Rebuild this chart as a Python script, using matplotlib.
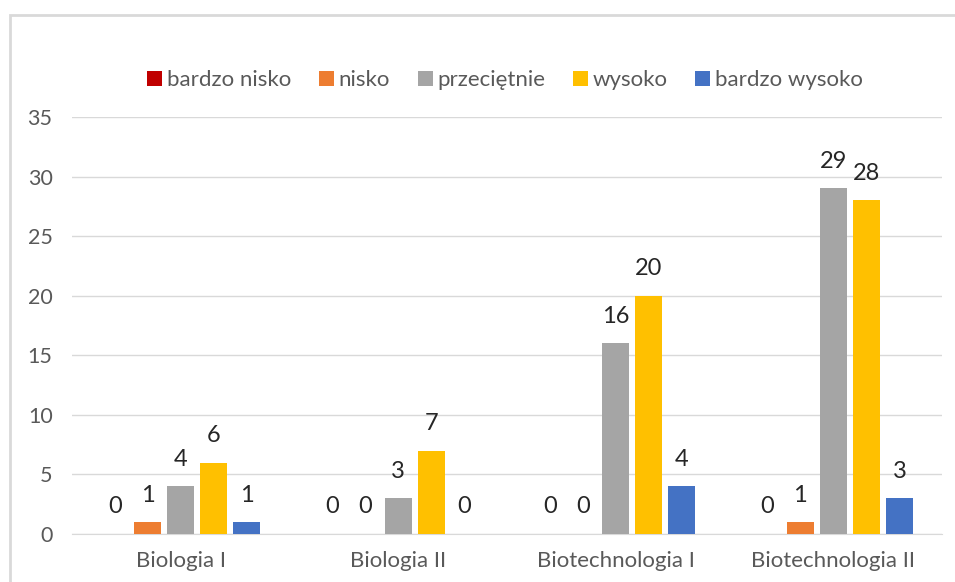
import matplotlib
matplotlib.use("Agg")
import matplotlib.pyplot as plot
import matplotlib.patches as patches
import numpy as np

categories = ["Biologia I", "Biologia II", "Biotechnologia I", "Biotechnologia II"]
series_names = ["bardzo nisko", "nisko", "przeciętnie", "wysoko", "bardzo wysoko"]
bardzo_nisko = [0, 0, 0, 0]
nisko = [1, 0, 0, 1]
przecietnie = [4, 3, 16, 29]
wysoko = [6, 7, 20, 28]
bardzo_wysoko = [1, 0, 4, 3]
y_ticks = [0, 5, 10, 15, 20, 25, 30, 35]

colors = ["#C00000", "#ED7D31", "#A5A5A5", "#FFC000", "#4472C4"]


def main():
  plot.rcParams["font.family"] = ["Lato", "DejaVu Sans"]
  figure = plot.figure(figsize=(9.55, 5.82), dpi=100)
  W, H = 955, 582
  axes = figure.add_axes([72 / W, 1 - 534 / H, 870 / W, 417 / H])

  # chart frame
  figure.patches.append(patches.Rectangle((10 / W, -0.1), 1.2, 1 - 15 / H + 0.1,
                                          transform=figure.transFigure, fill=False,
                                          edgecolor="#D9D9D9", linewidth=2))

  all_series = [bardzo_nisko, nisko, przecietnie, wysoko, bardzo_wysoko]
  x = np.arange(len(categories))
  step = 0.152
  width = 0.124
  for i, (name, values) in enumerate(zip(series_names, all_series)):
    positions = x + (i - 2) * step
    bars = axes.bar(positions, values, width, color=colors[i], label=name, zorder=3)
    for bar, v in zip(bars, values):
      axes.annotate(str(v), (bar.get_x() + bar.get_width() / 2, v),
                    xytext=(0, 19.5), textcoords="offset points",
                    ha="center", va="center", fontsize=17, color="#262626")

  axes.set_xlim(-0.5, len(categories) - 0.5)
  axes.set_ylim(0, 35)
  axes.set_yticks(y_ticks)
  axes.set_xticks(x)
  axes.set_xticklabels(categories)
  axes.grid(axis="y", color="#D9D9D9", linewidth=1, zorder=0)
  for side in ["top", "right", "left"]:
    axes.spines[side].set_visible(False)
  axes.spines["bottom"].set_color("#D9D9D9")
  axes.tick_params(axis="both", length=0, labelcolor="#595959")
  axes.tick_params(axis="x", pad=12, labelsize=16)
  axes.tick_params(axis="y", pad=14, labelsize=15.5)

  figure.legend(loc="center", bbox_to_anchor=(505 / W, 1 - 80 / H), ncol=5,
                frameon=False, fontsize=16, handlelength=0.68, handleheight=0.68,
                handletextpad=0.2, columnspacing=1.25, labelcolor="#595959")

  plot.savefig("out.png", dpi=100)
  plot.close()


if __name__ == "__main__":
  main()
